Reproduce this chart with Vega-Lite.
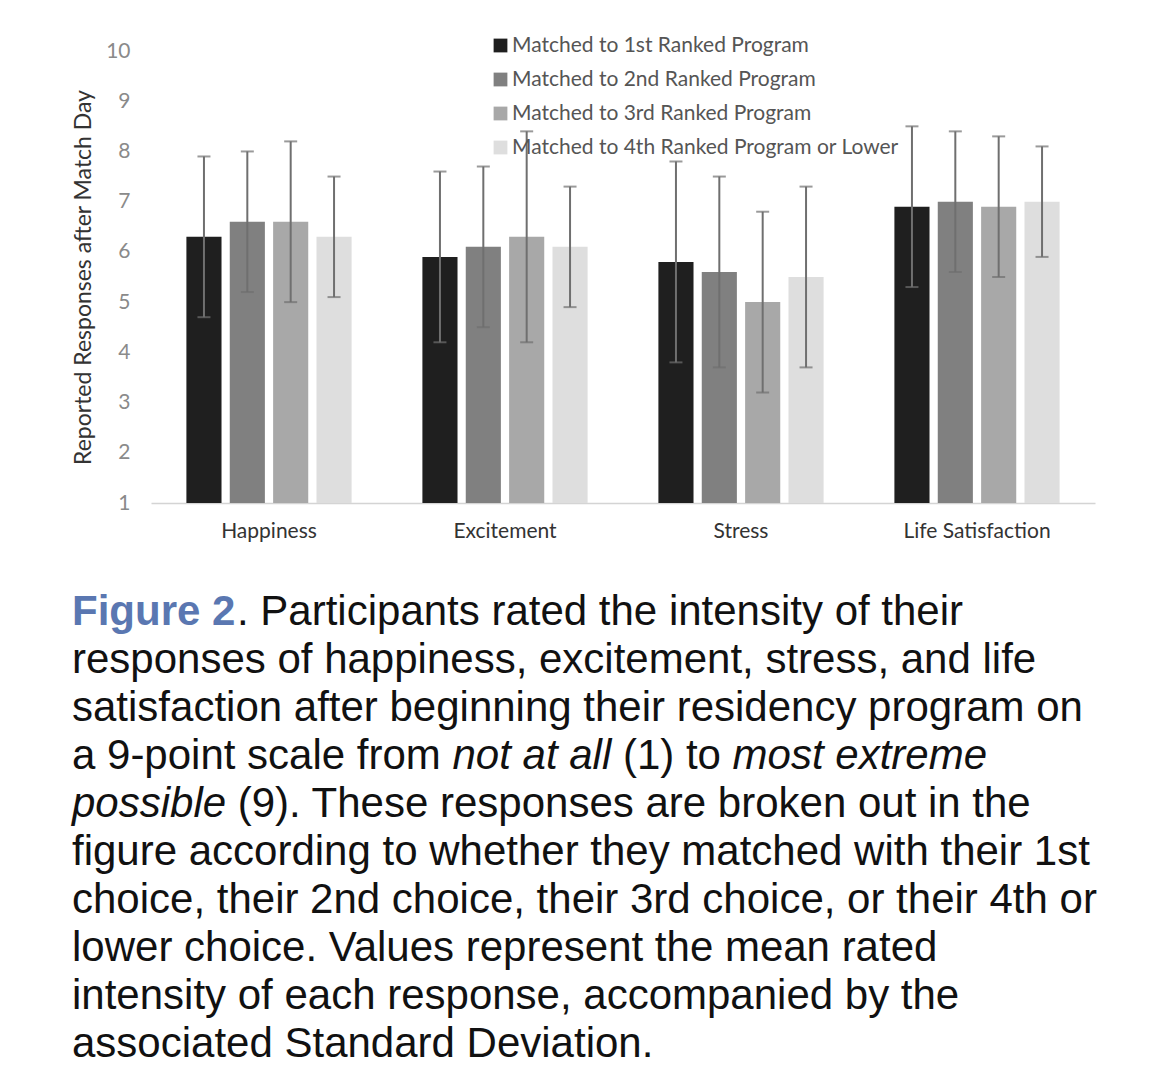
{
  "$schema": "https://vega.github.io/schema/vega-lite/v6.json",
  "background": "white",
  "padding": {"left": 72, "top": 35, "right": 0, "bottom": 0},
  "config": {"view": {"stroke": null}, "font": "Lato"},
  "spacing": 47,
  "datasets": {
    "bars": [
      {"emotion": "Happiness", "group": "Matched to 1st Ranked Program", "mean": 6.3, "lo": 4.7, "hi": 7.9},
      {"emotion": "Happiness", "group": "Matched to 2nd Ranked Program", "mean": 6.6, "lo": 5.2, "hi": 8.0},
      {"emotion": "Happiness", "group": "Matched to 3rd Ranked Program", "mean": 6.6, "lo": 5.0, "hi": 8.2},
      {"emotion": "Happiness", "group": "Matched to 4th Ranked Program or Lower", "mean": 6.3, "lo": 5.1, "hi": 7.5},
      {"emotion": "Excitement", "group": "Matched to 1st Ranked Program", "mean": 5.9, "lo": 4.2, "hi": 7.6},
      {"emotion": "Excitement", "group": "Matched to 2nd Ranked Program", "mean": 6.1, "lo": 4.5, "hi": 7.7},
      {"emotion": "Excitement", "group": "Matched to 3rd Ranked Program", "mean": 6.3, "lo": 4.2, "hi": 8.4},
      {"emotion": "Excitement", "group": "Matched to 4th Ranked Program or Lower", "mean": 6.1, "lo": 4.9, "hi": 7.3},
      {"emotion": "Stress", "group": "Matched to 1st Ranked Program", "mean": 5.8, "lo": 3.8, "hi": 7.8},
      {"emotion": "Stress", "group": "Matched to 2nd Ranked Program", "mean": 5.6, "lo": 3.7, "hi": 7.5},
      {"emotion": "Stress", "group": "Matched to 3rd Ranked Program", "mean": 5.0, "lo": 3.2, "hi": 6.8},
      {"emotion": "Stress", "group": "Matched to 4th Ranked Program or Lower", "mean": 5.5, "lo": 3.7, "hi": 7.3},
      {"emotion": "Life Satisfaction", "group": "Matched to 1st Ranked Program", "mean": 6.9, "lo": 5.3, "hi": 8.5},
      {"emotion": "Life Satisfaction", "group": "Matched to 2nd Ranked Program", "mean": 7.0, "lo": 5.6, "hi": 8.4},
      {"emotion": "Life Satisfaction", "group": "Matched to 3rd Ranked Program", "mean": 6.9, "lo": 5.5, "hi": 8.3},
      {"emotion": "Life Satisfaction", "group": "Matched to 4th Ranked Program or Lower", "mean": 7.0, "lo": 5.9, "hi": 8.1}
    ],
    "caption": [
      {"line": 1, "seg": "1a", "text": "Figure 2"},
      {"line": 1, "seg": "1b", "text": ". Participants rated the intensity of their"},
      {"line": 2, "seg": "full", "text": "responses of happiness, excitement, stress, and life"},
      {"line": 3, "seg": "full", "text": "satisfaction after beginning their residency program on"},
      {"line": 4, "seg": "4a", "text": "a 9-point scale from"},
      {"line": 4, "seg": "4b", "text": "not at all"},
      {"line": 4, "seg": "4c", "text": "(1) to"},
      {"line": 4, "seg": "4d", "text": "most extreme"},
      {"line": 5, "seg": "5a", "text": "possible"},
      {"line": 5, "seg": "5b", "text": "(9). These responses are broken out in the"},
      {"line": 6, "seg": "full", "text": "figure according to whether they matched with their 1st"},
      {"line": 7, "seg": "full", "text": "choice, their 2nd choice, their 3rd choice, or their 4th or"},
      {"line": 8, "seg": "full", "text": "lower choice. Values represent the mean rated"},
      {"line": 9, "seg": "full", "text": "intensity of each response, accompanied by the"},
      {"line": 10, "seg": "full", "text": "associated Standard Deviation."}
    ]
  },
  "vconcat": [
    {
      "width": 944,
      "height": 452,
      "data": {"name": "bars"},
      "encoding": {
        "x": {
          "field": "emotion", "type": "nominal",
          "sort": ["Happiness", "Excitement", "Stress", "Life Satisfaction"],
          "scale": {"paddingInner": 0.3, "paddingOuter": 0.15},
          "axis": {"title": null, "labelAngle": 0, "ticks": false, "domainColor": "#d4d4d4", "domainWidth": 1.5,
                   "labelPadding": 17, "labelFontSize": 21, "labelColor": "#333333", "labelFont": "Lato"}
        },
        "xOffset": {
          "field": "group", "type": "nominal",
          "scale": {"paddingInner": 0.19, "paddingOuter": 0}
        }
      },
      "layer": [
        {
          "mark": {"type": "bar"},
          "encoding": {
            "y": {
              "field": "mean", "type": "quantitative",
              "scale": {"domain": [1, 10], "zero": false, "nice": false},
              "axis": {"values": [1, 2, 3, 4, 5, 6, 7, 8, 9, 10], "grid": false, "domain": false, "ticks": false,
                       "labelPadding": 21, "labelFontSize": 21, "labelColor": "#8a8a8a", "labelFont": "Lato",
                       "title": "Reported Responses after Match Day", "titleFontSize": 23, "titleFontWeight": "normal",
                       "titleColor": "#333333", "titleFont": "Lato", "titlePadding": 10}
            },
            "y2": {"datum": 1},
            "color": {
              "field": "group", "type": "nominal",
              "scale": {"range": ["#1f1f1f", "#808080", "#a8a8a8", "#dedede"]},
              "legend": {"orient": "none", "legendX": 339, "legendY": -16, "title": null,
                         "symbolType": "square", "symbolSize": 190, "symbolStrokeWidth": 0,
                         "labelFontSize": 21, "labelColor": "#555555", "labelFont": "Lato", "labelLimit": 0,
                         "rowPadding": 12, "labelOffset": 1}
            }
          }
        },
        {
          "mark": {"type": "rule", "color": "#6f6f6f", "strokeWidth": 2},
          "encoding": {
            "y": {"field": "lo", "type": "quantitative"},
            "y2": {"field": "hi"}
          }
        },
        {
          "mark": {"type": "tick", "color": "#6f6f6f", "thickness": 2, "size": 13},
          "encoding": {"y": {"field": "lo", "type": "quantitative"}}
        },
        {
          "mark": {"type": "tick", "color": "#6f6f6f", "thickness": 2, "size": 13},
          "encoding": {"y": {"field": "hi", "type": "quantitative"}}
        }
      ]
    },
    {
      "width": 1025,
      "height": 480,
      "data": {"name": "caption"},
      "encoding": {
        "y": {"field": "line", "type": "ordinal", "axis": null},
        "x": {"datum": 0, "type": "quantitative", "scale": {"domain": [0, 1]}, "axis": null},
        "text": {"field": "text"}
      },
      "layer": [
        {
          "transform": [{"filter": "datum.seg == 'full'"}],
          "mark": {"type": "text", "align": "left", "baseline": "middle", "dx": -79, "font": "Liberation Sans", "fontSize": 42, "color": "#111111"}
        },
        {
          "transform": [{"filter": "datum.seg == '1a'"}],
          "mark": {"type": "text", "align": "left", "baseline": "middle", "dx": -79, "font": "Liberation Sans", "fontSize": 42, "fontWeight": "bold", "color": "#5a77b1"}
        },
        {
          "transform": [{"filter": "datum.seg == '1b'"}],
          "mark": {"type": "text", "align": "left", "baseline": "middle", "dx": 86, "font": "Liberation Sans", "fontSize": 42, "color": "#111111"}
        },
        {
          "transform": [{"filter": "datum.seg == '4a'"}],
          "mark": {"type": "text", "align": "left", "baseline": "middle", "dx": -79, "font": "Liberation Sans", "fontSize": 42, "color": "#111111"}
        },
        {
          "transform": [{"filter": "datum.seg == '4b'"}],
          "mark": {"type": "text", "align": "left", "baseline": "middle", "dx": 301.5, "font": "Liberation Sans", "fontSize": 42, "fontStyle": "italic", "color": "#111111"}
        },
        {
          "transform": [{"filter": "datum.seg == '4c'"}],
          "mark": {"type": "text", "align": "left", "baseline": "middle", "dx": 471.9, "font": "Liberation Sans", "fontSize": 42, "color": "#111111"}
        },
        {
          "transform": [{"filter": "datum.seg == '4d'"}],
          "mark": {"type": "text", "align": "left", "baseline": "middle", "dx": 581.6, "font": "Liberation Sans", "fontSize": 42, "fontStyle": "italic", "color": "#111111"}
        },
        {
          "transform": [{"filter": "datum.seg == '5a'"}],
          "mark": {"type": "text", "align": "left", "baseline": "middle", "dx": -79, "font": "Liberation Sans", "fontSize": 42, "fontStyle": "italic", "color": "#111111"}
        },
        {
          "transform": [{"filter": "datum.seg == '5b'"}],
          "mark": {"type": "text", "align": "left", "baseline": "middle", "dx": 86.7, "font": "Liberation Sans", "fontSize": 42, "color": "#111111"}
        }
      ]
    }
  ]
}
